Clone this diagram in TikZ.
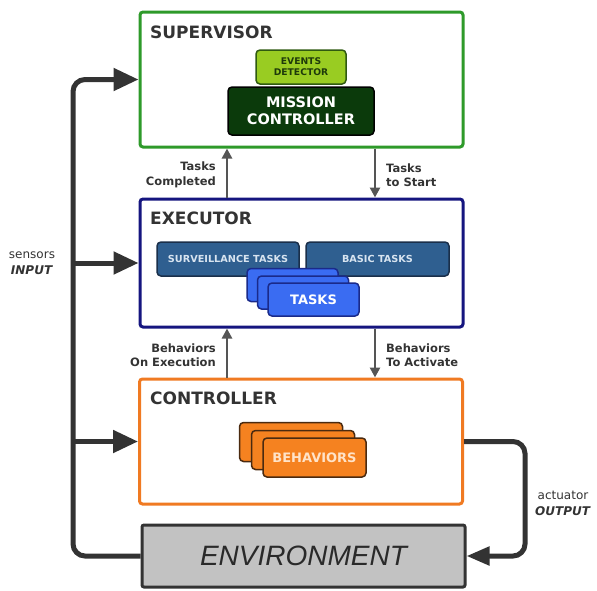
\documentclass[tikz,border=0pt]{standalone}
\usepackage{fontspec}
\setmainfont{DejaVu Sans}
\newfontfamily\envfont{Liberation Sans}
\usetikzlibrary{arrows.meta}
\definecolor{txt}{HTML}{333333}
\definecolor{supgreen}{HTML}{2E9A2A}
\definecolor{evfill}{HTML}{99CC22}
\definecolor{evdraw}{HTML}{2F5A10}
\definecolor{evtext}{HTML}{1E3A0A}
\definecolor{misfill}{HTML}{0B3A0B}
\definecolor{exeblue}{HTML}{15157F}
\definecolor{stfill}{HTML}{2F5F90}
\definecolor{stdraw}{HTML}{1A2F4A}
\definecolor{sttext}{HTML}{D8E4F0}
\definecolor{tkfill}{HTML}{3A6CF2}
\definecolor{tkdraw}{HTML}{1A2A8A}
\definecolor{ctlorange}{HTML}{F07A22}
\definecolor{bhfill}{HTML}{F58220}
\definecolor{bhdraw}{HTML}{4A2A10}
\definecolor{bhtext}{HTML}{FFE3C8}
\definecolor{envfill}{HTML}{C2C2C2}
\definecolor{envtext}{HTML}{2A2A2A}
\definecolor{feedcol}{HTML}{333333}
\definecolor{smallcol}{HTML}{555555}
\tikzset{
  panel/.style={draw, fill=white, rounded corners=3pt, line width=3pt, inner sep=0pt, minimum width=323pt},
  paneltitle/.style={anchor=west, inner sep=0pt, text=txt, font=\bfseries\fontsize{17}{17}\selectfont},
  inbox/.style={draw, rounded corners=4pt, line width=1.5pt, inner sep=0pt, align=center},
  feed/.style={draw=feedcol, line width=5pt, -{Triangle[length=25pt,width=22pt]}},
  smallarrow/.style={draw=smallcol, line width=2.5pt, -{Triangle[length=10pt,width=10pt]}},
  arrlabel/.style={inner sep=0pt, text=txt, font=\bfseries\fontsize{11.5}{14.5}\selectfont},
  iolabel/.style={inner sep=0pt, text=txt, align=center, font=\fontsize{12}{16}\selectfont}
}
\begin{document}
\begin{tikzpicture}[x=1pt,y=-1pt]
\useasboundingbox (0,0) rectangle (597,590);

% panels
\node[panel, draw=supgreen, minimum height=135pt] (sup) at (301.5,79.5) {};
\node[panel, draw=exeblue, minimum height=128pt] (exe) at (301.5,263) {};
\node[panel, draw=ctlorange, minimum height=125pt] (ctl) at (301,441.5) {};
\node[draw=feedcol, fill=envfill, rounded corners=2pt, line width=3pt, minimum width=323pt, minimum height=62pt, inner sep=0pt,
      text=envtext, font=\envfont\itshape\fontsize{28}{28}\selectfont] (env) at (303.5,556) {ENVIRONMENT};

% titles
\node[paneltitle] (supt) at (150,32) {SUPERVISOR};
\node[paneltitle] (exet) at (150,218) {EXECUTOR};
\node[paneltitle] (ctlt) at (150,398) {CONTROLLER};

% supervisor content
\node[inbox, fill=evfill, draw=evdraw, minimum width=90pt, minimum height=34pt, text=evtext,
      font=\bfseries\fontsize{9.2}{11}\selectfont] (ev) at (301,67) {EVENTS\\DETECTOR};
\node[inbox, fill=misfill, draw=black, minimum width=146pt, minimum height=48pt, text=white,
      font=\bfseries\fontsize{14.5}{17}\selectfont] (mis) at (301,111) {MISSION\\CONTROLLER};

% executor content
\node[inbox, fill=stfill, draw=stdraw, minimum width=142pt, minimum height=34pt, text=sttext,
      font=\bfseries\fontsize{9.7}{11}\selectfont] (surv) at (228,259) {SURVEILLANCE TASKS};
\node[inbox, fill=stfill, draw=stdraw, minimum width=143pt, minimum height=34pt, text=sttext,
      font=\bfseries\fontsize{9.7}{11}\selectfont] (basic) at (377.5,259) {BASIC TASKS};
\node[inbox, fill=tkfill, draw=tkdraw, minimum width=91pt, minimum height=33pt] (tk3) at (292.5,285) {};
\node[inbox, fill=tkfill, draw=tkdraw, minimum width=91pt, minimum height=33pt] (tk2) at (303,292.5) {};
\node[inbox, fill=tkfill, draw=tkdraw, minimum width=91pt, minimum height=33pt, text=white,
      font=\bfseries\fontsize{13}{13}\selectfont] (tk1) at (313.5,299.5) {TASKS};

% controller content
\node[inbox, fill=bhfill, draw=bhdraw, minimum width=103pt, minimum height=39pt] (bh3) at (291,442) {};
\node[inbox, fill=bhfill, draw=bhdraw, minimum width=103pt, minimum height=39pt] (bh2) at (303,450) {};
\node[inbox, fill=bhfill, draw=bhdraw, minimum width=103pt, minimum height=39pt, text=bhtext,
      font=\bfseries\fontsize{13}{13}\selectfont] (bh1) at (314.5,457.5) {BEHAVIORS};

% small arrows between panels
\coordinate (cl) at (227,0);
\coordinate (cr) at (375,0);
\draw[smallarrow] (cl |- exe.north) -- (cl |- sup.south);
\draw[smallarrow] (cr |- sup.south) -- (cr |- exe.north);
\draw[smallarrow] (cl |- ctl.north) -- (cl |- exe.south);
\draw[smallarrow] (cr |- exe.south) -- (cr |- ctl.north);

\node[arrlabel, anchor=east, align=right] (l1) at (216,175) {Tasks\\Completed};
\node[arrlabel, anchor=west, align=left] (l2) at (386,175) {Tasks\\to Start};
\node[arrlabel, anchor=east, align=right] (l3) at (216,355) {Behaviors\\On Execution};
\node[arrlabel, anchor=west, align=left] (l4) at (386,355) {Behaviors\\To Activate};

% feedback loop
\coordinate (L) at (73,0);
\coordinate (R) at (525,0);
\draw[feed, rounded corners=12pt] (env.west) -| (L |- sup.west) -- (sup.west);
\draw[feed] (L |- exe.west) -- (exe.west);
\draw[feed] (L |- ctl.west) -- (ctl.west);
\draw[feed, rounded corners=12pt, -{Triangle[length=23pt,width=18pt]}] (ctl.east) -| (R |- env.east) -- (env.east);

\node[iolabel] (in) at (32,263) {sensors\\\textbf{\textit{INPUT}}};
\node[iolabel] (out) at (563,503) {actuator\\\textbf{\textit{OUTPUT}}};
\end{tikzpicture}
\end{document}
